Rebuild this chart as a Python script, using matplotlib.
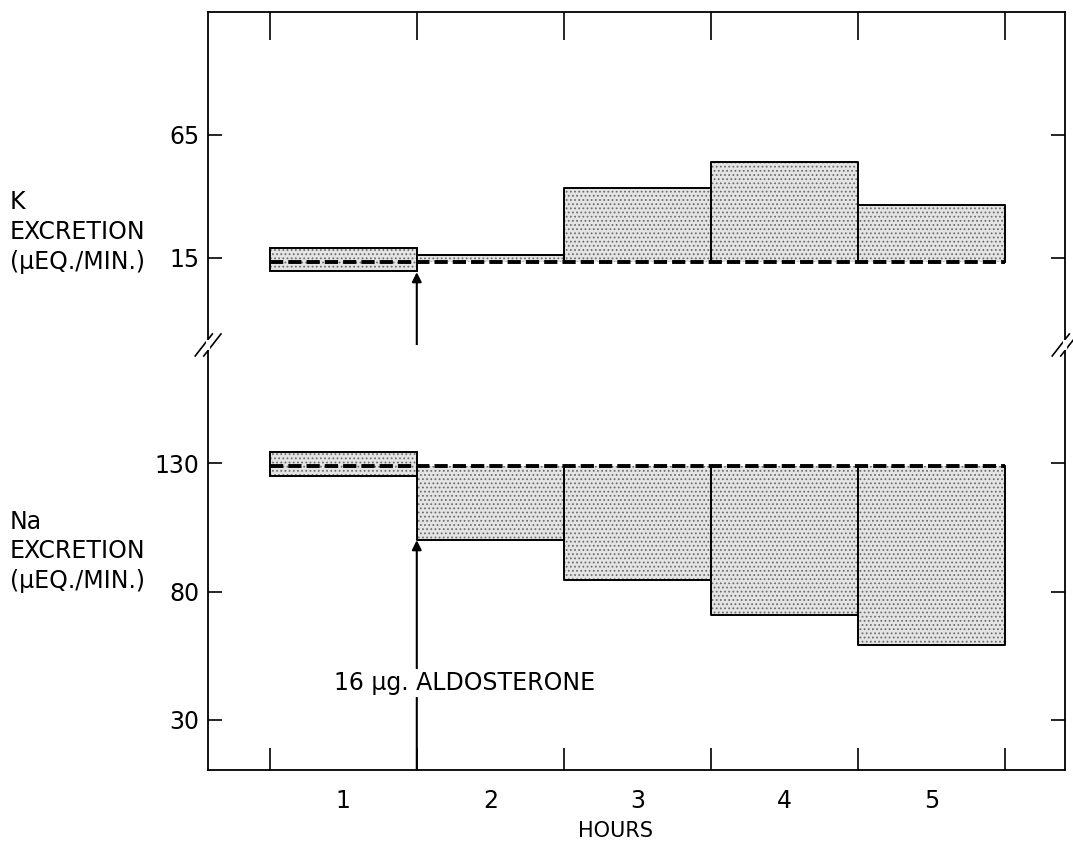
import matplotlib.pyplot as plt

# hours after start; hour 1 is the control period (shown as a range box)
hours = [1, 2, 3, 4, 5]
hour_labels = ["1", "2", "3", "4", "5"]

# K excretion (uEq/min)
k_ctrl_low = 9.7
k_ctrl_high = 19.0
k_ctrl_mean = 13.5
k_after = [16.2, 43.5, 54.0, 36.5]      # hours 2-5

# Na excretion (uEq/min)
na_ctrl_low = 125.0
na_ctrl_high = 134.3
na_ctrl_mean = 129.0
na_after = [100.0, 84.5, 71.0, 59.0]    # hours 2-5

k_ticks = [15, 65]
na_ticks = [30, 80, 130]

plt.rcParams["font.family"] = "DejaVu Sans"
plt.rcParams["hatch.linewidth"] = 0.8

FS = 17

fig = plt.figure(figsize=(10.73, 8.47), dpi=100)
ax_k = fig.add_axes([0.1939, 0.5927, 0.7987, 0.3931])
ax_na = fig.add_axes([0.1939, 0.0909, 0.7987, 0.5018])

fill_kw = dict(width=1.0, facecolor="#e4e4e4", edgecolor="#6e6e6e",
               linewidth=0, hatch="....", zorder=1)
dash_kw = dict(color="black", lw=2.8, dashes=(3.4, 1.3), zorder=4)
edge_kw = dict(color="black", lw=1.4, zorder=3)


def draw_panel(ax, low, high, mean, after):
    # control box for hour 1
    ax.bar(hours[0], high - low, bottom=low, **fill_kw)
    ax.bar(hours[0], high - low, bottom=low, width=1.0, fill=False,
           edgecolor="black", linewidth=1.4, zorder=3)
    # change from control for hours 2-5
    for h, v in zip(hours[1:], after):
        ax.bar(h, v - mean, bottom=mean, **fill_kw)
        x0, x1 = h - 0.5, h + 0.5
        ax.plot([x0, x0, x1, x1], [mean, v, v, mean], **edge_kw)
    ax.plot([hours[0] - 0.5, hours[-1] + 0.5], [mean, mean], **dash_kw)


draw_panel(ax_k, k_ctrl_low, k_ctrl_high, k_ctrl_mean, k_after)
draw_panel(ax_na, na_ctrl_low, na_ctrl_high, na_ctrl_mean, na_after)

ax_k.set_ylim(-20.4, 115)
ax_na.set_ylim(10.5, 176)
bounds = [h - 0.5 for h in hours] + [hours[-1] + 0.5]

for ax, ticks in [(ax_k, k_ticks), (ax_na, na_ticks)]:
    ax.set_xlim(0.08, 5.91)
    ax.set_yticks(ticks)
    ax.tick_params(axis="y", which="major", direction="in", length=10,
                   width=1.2, labelsize=FS, pad=6, left=True, right=True)
    for s in ax.spines.values():
        s.set_linewidth(1.3)

# top panel: ticks on top edge only
ax_k.spines["bottom"].set_visible(False)
ax_k.set_xticks(bounds)
ax_k.tick_params(axis="x", which="major", direction="in", length=20, width=1.2,
                 top=True, bottom=False, labeltop=False, labelbottom=False)

# bottom panel: ticks on bottom edge, hour labels centred in each hour
ax_na.spines["top"].set_visible(False)
ax_na.set_xticks(bounds)
ax_na.set_xticks(hours, minor=True)
ax_na.set_xticklabels(hour_labels, minor=True)
ax_na.tick_params(axis="x", which="major", direction="in", length=16, width=1.2,
                  top=False, bottom=True, labelbottom=False)
ax_na.tick_params(axis="x", which="minor", length=0, labelsize=FS, pad=14)
ax_na.set_xlabel("HOURS", fontsize=15, va="center")
ax_na.xaxis.set_label_coords(0.475, -0.143)

# aldosterone arrows at the end of hour 1
ax_k.annotate("", xy=(1.5, k_ctrl_low - 0.5), xytext=(1.5, -20.4),
              arrowprops=dict(arrowstyle="-|>", lw=1.5, color="black",
                              mutation_scale=14, shrinkA=0, shrinkB=0))
ax_na.annotate("", xy=(1.5, na_after[0]), xytext=(1.5, 10.5),
               arrowprops=dict(arrowstyle="-|>", lw=1.5, color="black",
                               mutation_scale=14, shrinkA=0, shrinkB=0))
ax_na.text(0.94, 44.5, "16 \u03bcg. ALDOSTERONE", fontsize=FS, va="center",
           ha="left", zorder=6,
           bbox=dict(facecolor="white", edgecolor="none", pad=1.5))

# y-axis labels
fig.text(0.009, 0.726, "K\nEXCRETION\n(\u03bcEQ./MIN.)", fontsize=FS,
         ha="left", va="center", linespacing=1.3)
fig.text(0.009, 0.349, "Na\nEXCRETION\n(\u03bcEQ./MIN.)", fontsize=FS,
         ha="left", va="center", linespacing=1.3)

# axis break marks on both sides
for xc in [0.1939, 0.9926]:
    for off in [-0.004, 0.004]:
        fig.add_artist(plt.Line2D([xc - 0.008 + off, xc + 0.008 + off],
                                  [0.5927 - 0.013, 0.5927 + 0.013],
                                  color="black", lw=1.2))
    fig.add_artist(plt.Line2D([xc, xc], [0.5927 - 0.004, 0.5927 + 0.004],
                              color="white", lw=3))

fig.savefig("out.png", dpi=100, facecolor="white")
